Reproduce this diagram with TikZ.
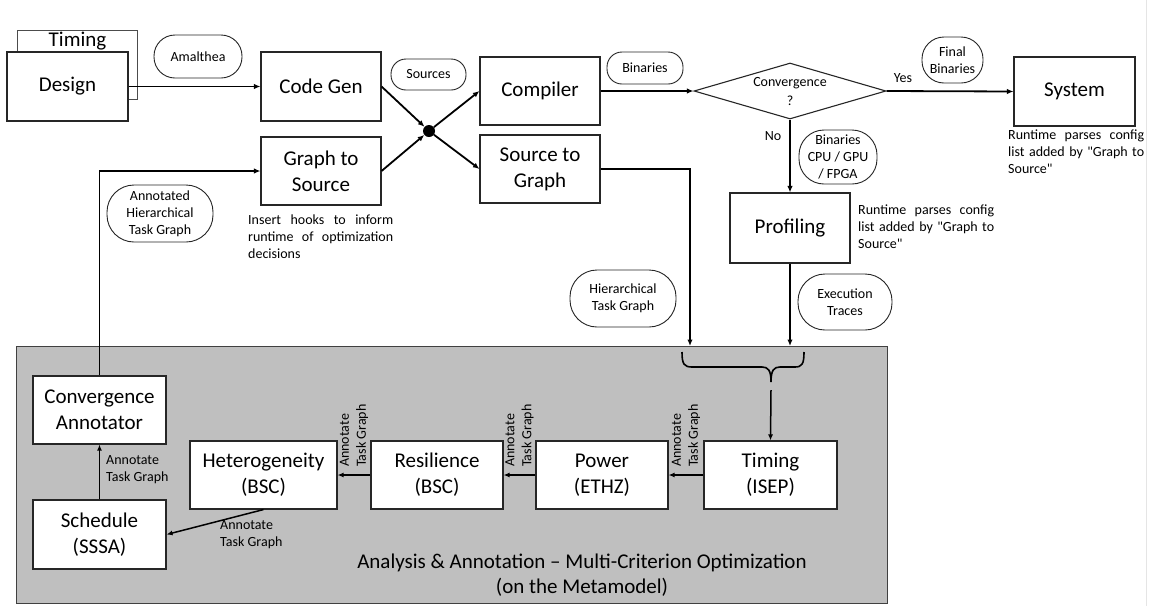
\documentclass[tikz,border=0pt]{standalone}
\usepackage{fontspec}
\setmainfont{Carlito}[Ligatures=TeXOff]
\usetikzlibrary{arrows.meta,shapes.geometric,calc}
\definecolor{panelgrey}{HTML}{BFBFBF}
\definecolor{paneledge}{HTML}{404040}
\begin{document}
\begin{tikzpicture}[x=1pt,y=-1pt,
  box/.style={draw=black!85, line width=1.1pt, fill=white, inner sep=0pt,
    font=\fontsize{21}{26}\selectfont, align=center},
  pill/.style={draw=black!85, line width=0.9pt, fill=white, inner sep=0pt,
    rounded corners=#1, font=\fontsize{14}{17}\selectfont, align=center},
  pill/.default=14pt,
  note/.style={inner sep=0pt, font=\fontsize{14}{17}\selectfont,
    align=justify, anchor=north west},
  lbl/.style={inner sep=0pt, font=\fontsize{14}{17}\selectfont, align=left},
  flow/.style={line width=1.8pt, -{Latex[length=6.5pt,width=5.5pt]}},
  thinflow/.style={line width=1.5pt, -{Latex[length=6pt,width=5pt]}},
]
\useasboundingbox (0,0) rectangle (1151,606);
\fill[white] (0,0) rectangle (1151,606);
\draw[black!10, line width=1pt] (1146,0) -- (1146,606);

% ---- design input (stacked sheets) ----
\node[box, draw=black!70, minimum width=120pt, minimum height=69pt, anchor=north west]
  (timingbk) at (17,30) {};
\node[inner sep=0pt, font=\fontsize{21}{26}\selectfont, anchor=base] (timingtxt) at (77.5,46) {Timing};
\node[box, minimum width=121pt, minimum height=69pt] (design) at (67.5,86.5) {Design};

% ---- tool chain ----
\node[box, minimum width=120pt, minimum height=69pt] (codegen) at (321,86.5) {Code Gen};
\node[box, minimum width=120pt, minimum height=68pt] (g2s) at (321,171) {Graph to\\Source};
\node[box, minimum width=120pt, minimum height=68pt] (compiler) at (540,91) {Compiler};
\node[box, minimum width=120pt, minimum height=68pt] (s2g) at (540,169) {Source to\\Graph};
\node[circle, fill=black, minimum size=12pt, inner sep=0pt] (jct) at (429,131) {};

\node[diamond, draw=black!85, line width=1.1pt, fill=white, inner sep=0pt,
  shape aspect=3.43, minimum width=192pt, minimum height=56pt,
  font=\fontsize{14}{19}\selectfont, align=center] (conv) at (790,91) {Convergence\\?};
\node[box, minimum width=121pt, minimum height=69pt] (system) at (1074.5,91.5) {System};
\node[box, minimum width=120pt, minimum height=70pt] (prof) at (790,228) {Profiling};

% ---- data labels ----
\node[pill=21pt, minimum width=88pt, minimum height=43pt] (amal) at (198,56.5) {Amalthea};
\node[pill=15pt, minimum width=75pt, minimum height=31pt] (src) at (428.5,74.5) {Sources};
\node[pill=15pt, minimum width=76pt, minimum height=32pt] (bin) at (645,68) {Binaries};
\node[pill=22pt, minimum width=61pt, minimum height=46pt] (fbin) at (952.5,60) {Final\\Binaries};
\node[pill=25pt, minimum width=78pt, minimum height=54pt] (bcpu) at (838,157) {Binaries\\CPU / GPU\\/ FPGA};
\node[pill=27pt, minimum width=106pt, minimum height=57pt] (htg) at (623,298.5) {Hierarchical\\Task Graph};
\node[pill=27pt, minimum width=94pt, minimum height=56pt] (exe) at (845,302) {Execution\\Traces};
\node[pill=27pt, minimum width=106pt, minimum height=57pt] (ahtg) at (160,213.5) {Annotated\\Hierarchical\\Task Graph};

\node[lbl] (yes) at (903,78) {Yes};
\node[lbl] (no) at (773,136) {No};

% ---- notes ----
\node[note, text width=145pt] (hooks) at (248,215)
  {Insert hooks to inform runtime of optimization decisions};
\node[note, text width=136pt] (profnote) at (858,205)
  {Runtime parses config list added by "Graph to Source"};
\node[note, text width=136pt] (sysnote) at (1008,130)
  {Runtime parses config list added by "Graph to Source"};

% ---- analysis panel ----
\node[draw=paneledge, fill=panelgrey, line width=1.3pt, inner sep=0pt,
  minimum width=871pt, minimum height=257pt, anchor=north west] (analysis) at (16,346) {};
\coordinate (htgin) at (690,346);
\coordinate (bracetip) at (771,390);
\draw[line width=1.6pt] (682,352) .. controls (682,364) and (684,367) .. (692,367)
  -- (762,367) .. controls (768,367) and (771,370) .. (771,382)
  .. controls (771,370) and (774,367) .. (780,367)
  -- (795,367) .. controls (802,367) and (804,364) .. (804,352);

\node[box, minimum width=133pt, minimum height=68pt] (conva) at (99.5,410) {Convergence\\Annotator};
\node[box, minimum width=133pt, minimum height=69pt] (sched) at (99.5,534.5) {Schedule\\(SSSA)};
\node[box, minimum width=147pt, minimum height=68pt] (heter) at (263.5,475) {Heterogeneity\\(BSC)};
\node[box, minimum width=132pt, minimum height=68pt] (resil) at (437,475) {Resilience\\(BSC)};
\node[box, minimum width=132pt, minimum height=68pt] (power) at (602,475) {Power\\(ETHZ)};
\node[box, minimum width=133pt, minimum height=68pt] (timing) at (770.5,475) {Timing\\(ISEP)};

\node[lbl, rotate=90, anchor=west] (rl1) at (354,467) {Annotate\\Task Graph};
\node[lbl, rotate=90, anchor=west] (rl2) at (519.5,467) {Annotate\\Task Graph};
\node[lbl, rotate=90, anchor=west] (rl3) at (686,467) {Annotate\\Task Graph};
\node[lbl, anchor=north west] (lsc) at (106,455) {Annotate\\Task Graph};
\node[lbl, anchor=north west] (ldg) at (220,520) {Annotate\\Task Graph};

\node[inner sep=0pt, font=\fontsize{21}{25}\selectfont, align=center] (caption) at (582,575.5)
  {Analysis \& Annotation – Multi-Criterion Optimization\\(on the Metamodel)};

% ---- connectors ----
\draw[flow] (design.east) -- (codegen.west);
\draw[flow] (codegen.east) -- (jct);
\draw[flow] (g2s.east) -- (jct);
\draw[flow] (jct) -- (compiler.west);
\draw[flow] (jct) -- (s2g.west);
\draw[flow] (compiler.east) -- (conv.west);
\draw[flow] (conv.east) -- (system.west);
\draw[flow] (conv.south) -- (prof.north);
\draw[flow] (prof.south) -- (prof.south |- analysis.north);
\draw[flow] (s2g.east) -| (htgin);
\draw[flow] (conva.north) |- (g2s.west);
\draw[thinflow] (bracetip) -- (timing.north);
\draw[thinflow] (timing.west) -- (power.east);
\draw[thinflow] (power.west) -- (resil.east);
\draw[thinflow] (resil.west) -- (heter.east);
\draw[thinflow] (heter.south) -- (sched.east);
\draw[thinflow] (sched.north) -- (conva.south);
\end{tikzpicture}
\end{document}
